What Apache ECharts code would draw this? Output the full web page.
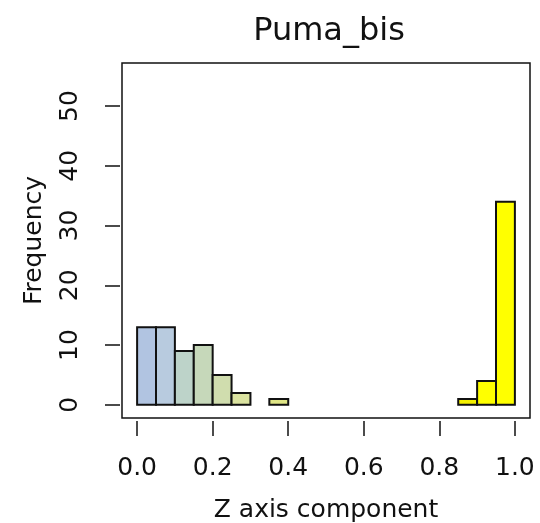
<!DOCTYPE html>
<html>
<head>
<meta charset="utf-8">
<script src="https://cdn.jsdelivr.net/npm/echarts@6/dist/echarts.min.js"></script>
<style>
  html, body { margin: 0; padding: 0; background: #fff; }
  #chart { width: 540px; height: 523px; }
</style>
</head>
<body>
<div id="chart"></div>
<script>
// histogram bins (width 0.05) and counts
var binStarts = [0, 0.05, 0.1, 0.15, 0.2, 0.25, 0.3, 0.35, 0.4, 0.45,
                 0.5, 0.55, 0.6, 0.65, 0.7, 0.75, 0.8, 0.85, 0.9, 0.95];
var counts = [13, 13, 9, 10, 5, 2, 0, 1, 0, 0,
              0, 0, 0, 0, 0, 0, 0, 1, 4, 34];
var binWidth = 0.05;
var xTicks = [0, 0.2, 0.4, 0.6, 0.8, 1.0];
var yTicks = [0, 10, 20, 30, 40, 50];

// colour of each bin, light blue -> yellow
var barColors = ["#b1c4e1", "#b8cbdf", "#bdd3c9", "#c6d8ba", "#d0ddae", "#dbe3a0",
                 "#dfe494", "#dfe585", "#e3e678", "#e6e86c", "#e9ea60", "#eced54",
                 "#efef48", "#f2f13c", "#f4f330", "#f7f524", "#f9f718", "#f4f000",
                 "#ffff00", "#ffff00"];

var font = "DejaVu Sans";

var data = [];
for (var i = 0; i < binStarts.length; i++) {
  if (counts[i] > 0) data.push([binStarts[i], binStarts[i] + binWidth, counts[i], i]);
}

var chart = echarts.init(document.getElementById("chart"));
chart.setOption({
  animation: false,
  title: {
    text: "Puma_bis",
    left: 324,
    top: 11,
    textAlign: "center",
    textStyle: { fontFamily: font, fontSize: 32, fontWeight: "normal", color: "#111" }
  },
  grid: {
    left: 122, right: 10, top: 63, bottom: 105,
    outerBoundsMode: "none",
    show: true, borderColor: "#111", borderWidth: 1.5, backgroundColor: "#fff"
  },
  xAxis: {
    type: "value",
    min: -0.04, max: 1.04,
    offset: 3,
    name: "Z axis component",
    nameLocation: "middle",
    nameGap: 77,
    nameTextStyle: { fontFamily: font, fontSize: 25, color: "#111" },
    splitLine: { show: false },
    axisLine: { show: false, onZero: false },
    axisTick: { show: true, customValues: xTicks, length: 15, inside: false,
                lineStyle: { color: "#111", width: 1.5 } },
    axisLabel: { customValues: xTicks, margin: 35, fontFamily: font, fontSize: 25, color: "#111",
                 formatter: function (v) { return v.toFixed(1); } }
  },
  yAxis: {
    type: "value",
    min: -2.2, max: 57.2,
    offset: 2,
    name: "Frequency",
    nameLocation: "middle",
    nameGap: 73,
    nameRotate: 90,
    nameTextStyle: { fontFamily: font, fontSize: 25, color: "#111" },
    splitLine: { show: false },
    axisLine: { show: false, onZero: false },
    axisTick: { show: true, customValues: yTicks, length: 15,
                lineStyle: { color: "#111", width: 1.5 } },
    axisLabel: { customValues: yTicks, margin: 50, rotate: 90, fontFamily: font, fontSize: 25,
                 color: "#111", verticalAlign: "middle", align: "center" }
  },
  series: [{
    type: "custom",
    renderItem: function (params, api) {
      var p0 = api.coord([api.value(0), 0]);
      var p1 = api.coord([api.value(1), api.value(2)]);
      return {
        type: "rect",
        shape: { x: p0[0], y: p1[1], width: p1[0] - p0[0], height: p0[1] - p1[1] },
        style: { fill: barColors[api.value(3)], stroke: "#111", lineWidth: 2 }
      };
    },
    encode: { x: [0, 1], y: 2 },
    data: data
  }]
});
</script>
</body>
</html>
